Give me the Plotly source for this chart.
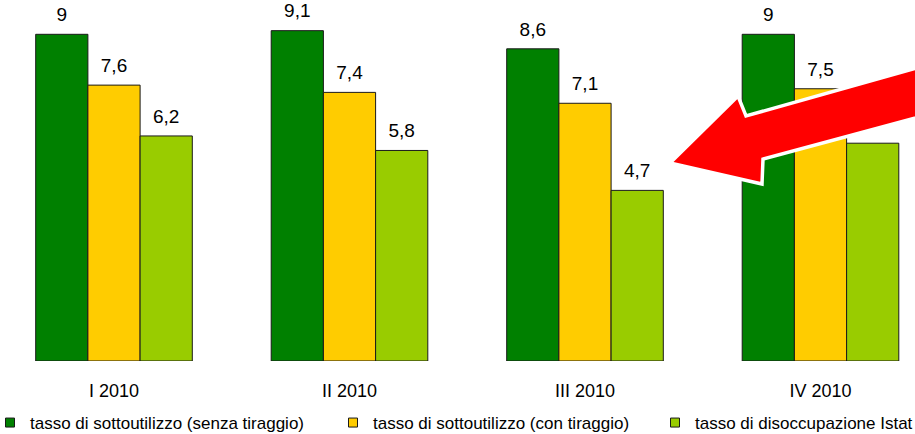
import plotly.graph_objects as go

# Quarterly rates (percent)
quarters = ["I 2010", "II 2010", "III 2010", "IV 2010"]
senza_tiraggio = [9.0, 9.1, 8.6, 9.0]
con_tiraggio = [7.6, 7.4, 7.1, 7.5]
disoccupazione_istat = [6.2, 5.8, 4.7, 6.0]

series_names = [
    "tasso di sottoutilizzo (senza tiraggio)",
    "tasso di sottoutilizzo (con tiraggio)",
    "tasso di disoccupazione Istat",
]
series_values = [senza_tiraggio, con_tiraggio, disoccupazione_istat]
series_colors = ["#008000", "#FFCC00", "#99CC00"]

FONT = "Liberation Sans, Arial, sans-serif"
W, H = 915, 434
MB = 73  # bottom margin in px
PLOT_H = H - MB
BARGAP = 0.335

x_pos = list(range(len(quarters)))
n_series = len(series_values)
bar_w = (1 - BARGAP) / n_series


def fmt(v):
    s = f"{v:.1f}".rstrip("0").rstrip(".")
    return s.replace(".", ",")


fig = go.Figure()
legend_ids = ["legend", "legend2", "legend3"]
for i, (name, vals, col, lg) in enumerate(
        zip(series_names, series_values, series_colors, legend_ids)):
    fig.add_trace(go.Bar(
        x=x_pos, y=vals, name=name,
        marker=dict(color=col, line=dict(color="#1a1a1a", width=1)),
        showlegend=False, hoverinfo="skip",
    ))
    # value labels above each bar (an invisible marker keeps them off the bar top)
    offset = (i - (n_series - 1) / 2) * bar_w
    fig.add_trace(go.Scatter(
        x=[x + offset for x in x_pos], y=vals, mode="markers+text",
        text=[fmt(v) for v in vals], textposition="top center",
        textfont=dict(family=FONT, size=19, color="#000000"),
        marker=dict(size=12, color="rgba(0,0,0,0)"),
        cliponaxis=False, showlegend=False, hoverinfo="skip",
    ))
    # legend-only swatch
    fig.add_trace(go.Scatter(
        x=[None], y=[None], mode="markers", name=name, legend=lg,
        marker=dict(symbol="square", size=9, color=col,
                    line=dict(color="#1a1a1a", width=1)),
    ))


def px_to_paper(px, py):
    return px / W, (PLOT_H - py) / PLOT_H


# red block arrow pointing towards the III 2010 group
arrow_px = [(670, 163), (738, 96), (746, 116), (945, 60),
            (945, 110), (763, 159), (762, 184)]
pts = [px_to_paper(a, b) for a, b in arrow_px]
path = "M " + " L ".join(f"{a:.5f},{b:.5f}" for a, b in pts) + " Z"
fig.add_shape(type="path", path=path, xref="paper", yref="paper",
              fillcolor="#FF0000", line=dict(color="#FFFFFF", width=3.5),
              layer="above")

legend_text_x = [30, 373, 695]
common_legend = dict(orientation="h", yanchor="middle", xanchor="left",
                     y=(PLOT_H - 423) / PLOT_H,
                     font=dict(family=FONT, size=17, color="#000000"),
                     bgcolor="rgba(0,0,0,0)", borderwidth=0)
fig.update_layout(
    legend=dict(x=(legend_text_x[0] - 40) / W, **common_legend),
    legend2=dict(x=(legend_text_x[1] - 40) / W, **common_legend),
    legend3=dict(x=(legend_text_x[2] - 40) / W, **common_legend),
)

group_w = 235.5
fig.update_layout(
    width=W, height=H,
    margin=dict(l=0, r=0, t=0, b=MB, autoexpand=False),
    paper_bgcolor="#FFFFFF", plot_bgcolor="#FFFFFF",
    barmode="group", bargap=BARGAP, bargroupgap=0,
    xaxis=dict(range=[-114 / group_w, (W - 114) / group_w],
               tickvals=x_pos, ticktext=quarters,
               tickfont=dict(family=FONT, size=18, color="#000000"),
               showgrid=False, zeroline=False, showline=False,
               ticks="outside", ticklen=13, tickcolor="rgba(0,0,0,0)",
               fixedrange=True),
    yaxis=dict(range=[0, PLOT_H / 36.3], visible=False, fixedrange=True),
    font=dict(family=FONT),
)

fig.write_html("out.html")
